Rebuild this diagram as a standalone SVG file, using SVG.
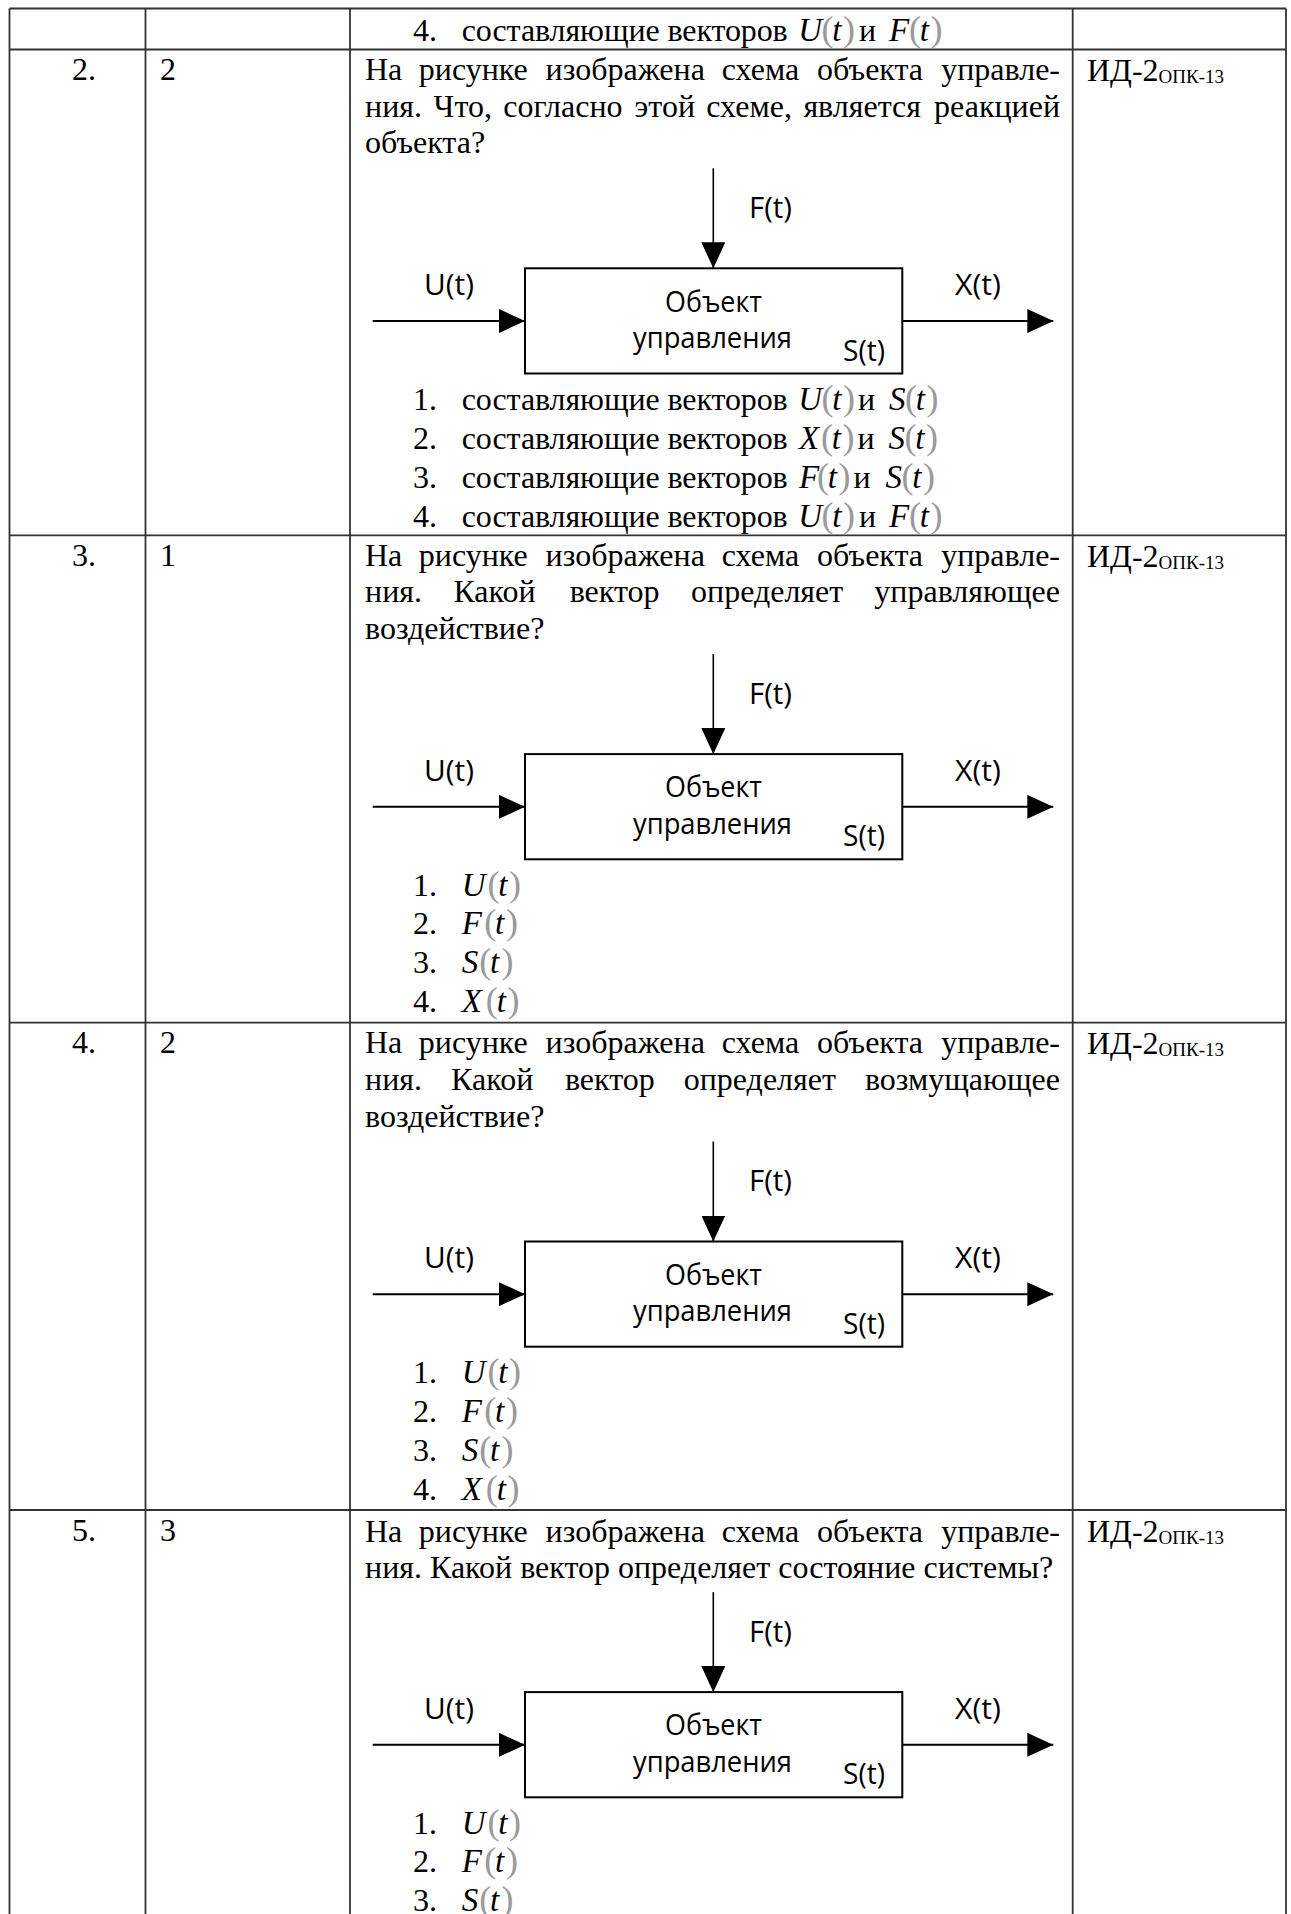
<svg xmlns="http://www.w3.org/2000/svg" width="1291" height="1914" viewBox="0 0 1291 1914">
<style>
.cell{font-family:"Liberation Serif","Times New Roman",serif;font-size:32px;fill:#000}
.sub{font-size:19px}
.m{font-family:"Liberation Serif","Times New Roman",serif;font-style:italic;font-size:33px;fill:#000}
.p{font-family:"Liberation Serif","Times New Roman",serif;font-size:36px;fill:#9a9a9a}
.lbl{font-family:"Open Sans","Noto Sans",sans-serif;font-size:30px;fill:#000}
.grid{stroke:#333;stroke-width:1.8;fill:none}
.box{fill:#fff;stroke:#000;stroke-width:2}
.conn{stroke:#000;stroke-width:2;fill:none}
.thin{stroke-width:1.6}
</style>
<defs>
<marker id="ah" markerUnits="userSpaceOnUse" markerWidth="26" markerHeight="24" refX="26" refY="12" orient="auto">
<path d="M0,0 L26,12 L0,24 z" fill="#000"/>
</marker>
<g id="diagram">
<g id="connectors">
<line class="conn thin" x1="713.3" y1="118.8" x2="713.3" y2="218.8" marker-end="url(#ah)"/>
<line class="conn" x1="372.7" y1="271.5" x2="525" y2="271.5" marker-end="url(#ah)"/>
<line class="conn" x1="902.3" y1="271.5" x2="1053.3" y2="271.5" marker-end="url(#ah)"/>
</g>
<g id="object">
<rect class="box" x="525" y="218.8" width="377.3" height="105.2"/>
<text class="lbl" x="665" y="262.2" textLength="97" lengthAdjust="spacingAndGlyphs">Объект</text>
<text class="lbl" x="633" y="298.5" textLength="159" lengthAdjust="spacingAndGlyphs">управления</text>
<text class="lbl" x="843" y="311.2" textLength="42" lengthAdjust="spacingAndGlyphs">S(t)</text>
</g>
<g id="input-F"><text class="lbl" x="749" y="168.5" textLength="43" lengthAdjust="spacingAndGlyphs">F(t)</text></g>
<g id="input-U"><text class="lbl" x="424" y="245.5" textLength="50" lengthAdjust="spacingAndGlyphs">U(t)</text></g>
<g id="output-X"><text class="lbl" x="955" y="245.5" textLength="46" lengthAdjust="spacingAndGlyphs">X(t)</text></g>
</g>
</defs>
<rect width="1291" height="1914" fill="#fff"/>

<g id="table-grid">
<line class="grid" x1="9.5" y1="8.5" x2="9.5" y2="1914"/>
<line class="grid" x1="145.5" y1="8.5" x2="145.5" y2="1914"/>
<line class="grid" x1="350" y1="8.5" x2="350" y2="1914"/>
<line class="grid" x1="1072.7" y1="8.5" x2="1072.7" y2="1914"/>
<line class="grid" x1="1286" y1="8.5" x2="1286" y2="1914"/>
<line class="grid" x1="9.5" y1="8.5" x2="1286" y2="8.5"/>
<line class="grid" x1="9.5" y1="49.5" x2="1286" y2="49.5"/>
<line class="grid" x1="9.5" y1="535.3" x2="1286" y2="535.3"/>
<line class="grid" x1="9.5" y1="1022.7" x2="1286" y2="1022.7"/>
<line class="grid" x1="9.5" y1="1510" x2="1286" y2="1510"/>
</g>

<g id="row1-tail">
<text class="cell" x="413" y="40.5">4.</text>
<text class="cell" x="461.7" y="40.5" textLength="326">составляющие векторов</text>
<text class="m" x="798.3" y="40.5">U</text><text class="p" x="821.5" y="40.5">(</text><text class="m" x="832.3" y="40.5">t</text><text class="p" x="843" y="40.5">)</text>
<text class="cell" x="859" y="40.5">и</text>
<text class="m" x="889" y="40.5">F</text><text class="p" x="909" y="40.5">(</text><text class="m" x="919.8" y="40.5">t</text><text class="p" x="930.5" y="40.5">)</text>
</g>

<g id="row2" transform="translate(0,49.5)">
<text class="cell" x="72" y="30.5">2.</text>
<text class="cell" x="160" y="30.5">2</text>
<text class="cell" x="1087" y="31.5">ИД-2<tspan class="sub" dy="2">ОПК-13</tspan></text>
<g id="row2-question">
<text class="cell" x="365" y="30.5">На</text><text class="cell" x="418.8" y="30.5">рисунке</text><text class="cell" x="545.6" y="30.5">изображена</text><text class="cell" x="721.8" y="30.5">схема</text><text class="cell" x="817.1" y="30.5">объекта</text><text class="cell" x="1060" y="30.5" text-anchor="end">управле-</text>
<text class="cell" x="365" y="67.2">ния.</text><text class="cell" x="433.6" y="67.2">Что,</text><text class="cell" x="503.3" y="67.2">согласно</text><text class="cell" x="634.6" y="67.2">этой</text><text class="cell" x="706.3" y="67.2">схеме,</text><text class="cell" x="803.4" y="67.2">является</text><text class="cell" x="1060" y="67.2" text-anchor="end">реакцией</text>
<text class="cell" x="365" y="103.9">объекта?</text>
</g>
<g id="row2-diagram"><use href="#diagram"/></g>
<g id="row2-answers">
<text class="cell" x="413" y="360.5">1.</text><text class="cell" x="461.7" y="360.5" textLength="326">составляющие векторов</text>
<text class="m" x="798.3" y="360.5">U</text><text class="p" x="821.5" y="360.5">(</text><text class="m" x="832.3" y="360.5">t</text><text class="p" x="843" y="360.5">)</text>
<text class="cell" x="858" y="360.5">и</text>
<text class="m" x="889" y="360.5">S</text><text class="p" x="905" y="360.5">(</text><text class="m" x="915.8" y="360.5">t</text><text class="p" x="926.5" y="360.5">)</text>

<text class="cell" x="413" y="399">2.</text><text class="cell" x="461.7" y="399" textLength="326">составляющие векторов</text>
<text class="m" x="799" y="399">X</text><text class="p" x="821" y="399">(</text><text class="m" x="831.8" y="399">t</text><text class="p" x="842.5" y="399">)</text>
<text class="cell" x="857.5" y="399">и</text>
<text class="m" x="888.5" y="399">S</text><text class="p" x="904.5" y="399">(</text><text class="m" x="915.3" y="399">t</text><text class="p" x="926" y="399">)</text>

<text class="cell" x="413" y="438">3.</text><text class="cell" x="461.7" y="438" textLength="326">составляющие векторов</text>
<text class="m" x="799" y="438">F</text><text class="p" x="817" y="438">(</text><text class="m" x="827.8" y="438">t</text><text class="p" x="838.5" y="438">)</text>
<text class="cell" x="853.5" y="438">и</text>
<text class="m" x="885.5" y="438">S</text><text class="p" x="901.5" y="438">(</text><text class="m" x="912.3" y="438">t</text><text class="p" x="923" y="438">)</text>

<text class="cell" x="413" y="477">4.</text><text class="cell" x="461.7" y="477" textLength="326">составляющие векторов</text>
<text class="m" x="798.3" y="477">U</text><text class="p" x="821.5" y="477">(</text><text class="m" x="832.3" y="477">t</text><text class="p" x="843" y="477">)</text>
<text class="cell" x="859" y="477">и</text>
<text class="m" x="889" y="477">F</text><text class="p" x="909" y="477">(</text><text class="m" x="919.8" y="477">t</text><text class="p" x="930.5" y="477">)</text>
</g>
</g>

<g id="row3" transform="translate(0,535.3)">
<text class="cell" x="72" y="30.5">3.</text>
<text class="cell" x="160" y="30.5">1</text>
<text class="cell" x="1087" y="31.5">ИД-2<tspan class="sub" dy="2">ОПК-13</tspan></text>
<g id="row3-question">
<text class="cell" x="365" y="30.5">На</text><text class="cell" x="418.8" y="30.5">рисунке</text><text class="cell" x="545.6" y="30.5">изображена</text><text class="cell" x="721.8" y="30.5">схема</text><text class="cell" x="817.1" y="30.5">объекта</text><text class="cell" x="1060" y="30.5" text-anchor="end">управле-</text>
<text class="cell" x="365" y="67.2">ния.</text><text class="cell" x="453.4" y="67.2">Какой</text><text class="cell" x="569.7" y="67.2">вектор</text><text class="cell" x="691" y="67.2">определяет</text><text class="cell" x="1060" y="67.2" text-anchor="end">управляющее</text>
<text class="cell" x="365" y="103.9">воздействие?</text>
</g>
<g id="row3-diagram"><use href="#diagram"/></g>
<g id="row3-answers">
<text class="cell" x="413" y="360.5">1.</text><text class="m" x="461.7" y="360.5">U</text><text class="p" x="487.5" y="360.5">(</text><text class="m" x="498.3" y="360.5">t</text><text class="p" x="509" y="360.5">)</text>
<text class="cell" x="413" y="399">2.</text><text class="m" x="461.7" y="399">F</text><text class="p" x="484.2" y="399">(</text><text class="m" x="495" y="399">t</text><text class="p" x="506" y="399">)</text>
<text class="cell" x="413" y="438">3.</text><text class="m" x="461.7" y="438">S</text><text class="p" x="479.2" y="438">(</text><text class="m" x="490" y="438">t</text><text class="p" x="501.5" y="438">)</text>
<text class="cell" x="413" y="477">4.</text><text class="m" x="461.7" y="477">X</text><text class="p" x="485.8" y="477">(</text><text class="m" x="496.7" y="477">t</text><text class="p" x="507.5" y="477">)</text>
</g>
</g>

<g id="row4" transform="translate(0,1022.7)">
<text class="cell" x="72" y="30.5">4.</text>
<text class="cell" x="160" y="30.5">2</text>
<text class="cell" x="1087" y="31.5">ИД-2<tspan class="sub" dy="2">ОПК-13</tspan></text>
<g id="row4-question">
<text class="cell" x="365" y="30.5">На</text><text class="cell" x="418.8" y="30.5">рисунке</text><text class="cell" x="545.6" y="30.5">изображена</text><text class="cell" x="721.8" y="30.5">схема</text><text class="cell" x="817.1" y="30.5">объекта</text><text class="cell" x="1060" y="30.5" text-anchor="end">управле-</text>
<text class="cell" x="365" y="67.2">ния.</text><text class="cell" x="451.1" y="67.2">Какой</text><text class="cell" x="564.9" y="67.2">вектор</text><text class="cell" x="683.7" y="67.2">определяет</text><text class="cell" x="1060" y="67.2" text-anchor="end">возмущающее</text>
<text class="cell" x="365" y="103.9">воздействие?</text>
</g>
<g id="row4-diagram"><use href="#diagram"/></g>
<g id="row4-answers">
<text class="cell" x="413" y="360.5">1.</text><text class="m" x="461.7" y="360.5">U</text><text class="p" x="487.5" y="360.5">(</text><text class="m" x="498.3" y="360.5">t</text><text class="p" x="509" y="360.5">)</text>
<text class="cell" x="413" y="399">2.</text><text class="m" x="461.7" y="399">F</text><text class="p" x="484.2" y="399">(</text><text class="m" x="495" y="399">t</text><text class="p" x="506" y="399">)</text>
<text class="cell" x="413" y="438">3.</text><text class="m" x="461.7" y="438">S</text><text class="p" x="479.2" y="438">(</text><text class="m" x="490" y="438">t</text><text class="p" x="501.5" y="438">)</text>
<text class="cell" x="413" y="477">4.</text><text class="m" x="461.7" y="477">X</text><text class="p" x="485.8" y="477">(</text><text class="m" x="496.7" y="477">t</text><text class="p" x="507.5" y="477">)</text>
</g>
</g>

<g id="row5" transform="translate(0,1510)">
<text class="cell" x="72" y="30.5">5.</text>
<text class="cell" x="160" y="30.5">3</text>
<text class="cell" x="1087" y="31.5">ИД-2<tspan class="sub" dy="2">ОПК-13</tspan></text>
<g id="row5-question">
<text class="cell" x="365" y="31.5">На</text><text class="cell" x="418.8" y="31.5">рисунке</text><text class="cell" x="545.6" y="31.5">изображена</text><text class="cell" x="721.8" y="31.5">схема</text><text class="cell" x="817.1" y="31.5">объекта</text><text class="cell" x="1060" y="31.5" text-anchor="end">управле-</text>
<text class="cell" x="365" y="68.2">ния. Какой вектор определяет состояние системы?</text>
</g>
<g id="row5-diagram" transform="translate(0,-36.7)"><use href="#diagram"/></g>
<g id="row5-answers" transform="translate(0,-36.7)">
<text class="cell" x="413" y="360.5">1.</text><text class="m" x="461.7" y="360.5">U</text><text class="p" x="487.5" y="360.5">(</text><text class="m" x="498.3" y="360.5">t</text><text class="p" x="509" y="360.5">)</text>
<text class="cell" x="413" y="399">2.</text><text class="m" x="461.7" y="399">F</text><text class="p" x="484.2" y="399">(</text><text class="m" x="495" y="399">t</text><text class="p" x="506" y="399">)</text>
<text class="cell" x="413" y="438">3.</text><text class="m" x="461.7" y="438">S</text><text class="p" x="479.2" y="438">(</text><text class="m" x="490" y="438">t</text><text class="p" x="501.5" y="438">)</text>
</g>
</g>
</svg>
